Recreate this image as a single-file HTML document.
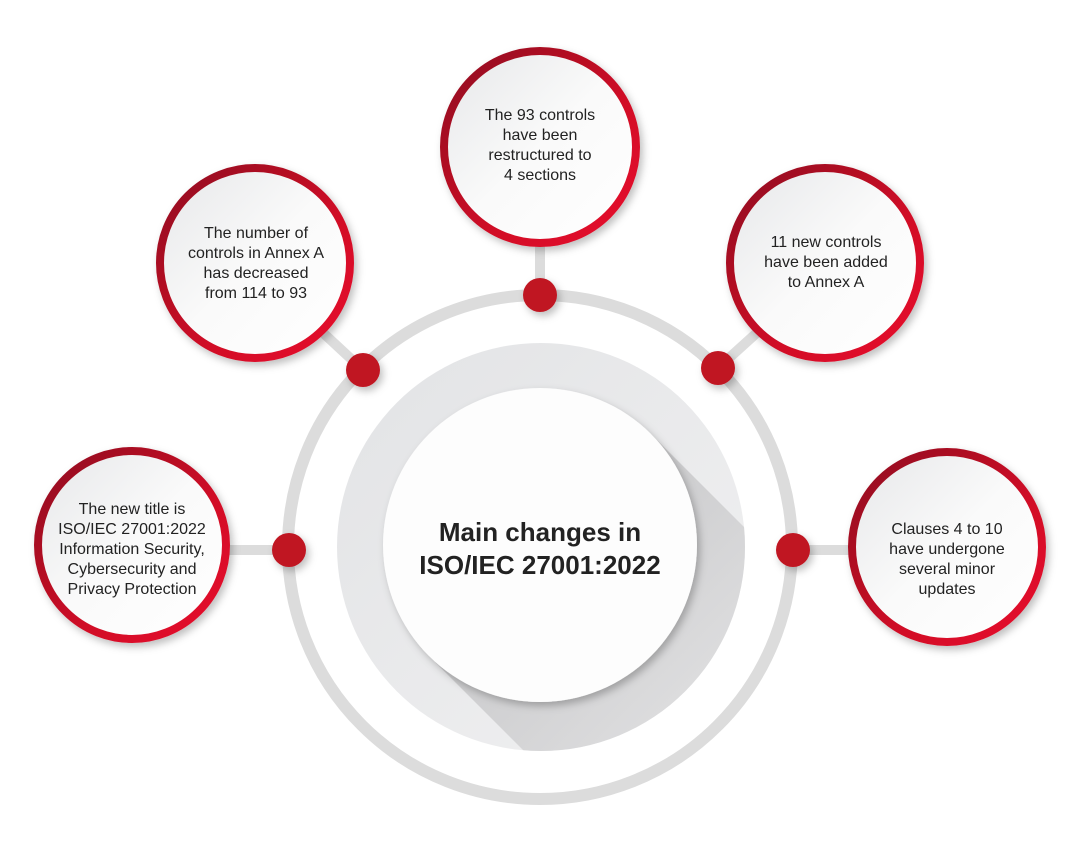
<!DOCTYPE html>
<html><head><meta charset="utf-8"><style>
html,body{margin:0;padding:0;background:#fff;width:1080px;height:849px;overflow:hidden}
svg{display:block}
text{font-family:"Liberation Sans",sans-serif;fill:#222}
</style></head><body>
<svg width="1080" height="849" viewBox="0 0 1080 849" xmlns="http://www.w3.org/2000/svg" style="overflow:hidden">
<defs>
<linearGradient id="rg" x1="0" y1="0" x2="1" y2="1">
<stop offset="0" stop-color="#8e0f1e"/><stop offset="0.6" stop-color="#d10f27"/><stop offset="1" stop-color="#e8102c"/>
</linearGradient>
<linearGradient id="wg" x1="0" y1="0" x2="1" y2="1">
<stop offset="0" stop-color="#e6e7e9"/><stop offset="0.5" stop-color="#fafafa"/><stop offset="1" stop-color="#ffffff"/>
</linearGradient>
<linearGradient id="dg" x1="0" y1="0" x2="1" y2="1">
<stop offset="0" stop-color="#e2e3e5"/><stop offset="1" stop-color="#f1f1f2"/>
</linearGradient>
<linearGradient id="sg" x1="0" y1="0" x2="1" y2="1">
<stop offset="0" stop-color="#b5b5b7"/><stop offset="1" stop-color="#eeeeef"/>
</linearGradient>
<clipPath id="disc"><circle cx="541" cy="547" r="204"/></clipPath>
<filter id="sh" x="-20%" y="-20%" width="140%" height="140%"><feDropShadow dx="3" dy="4" stdDeviation="4" flood-color="#000" flood-opacity="0.25"/></filter>
</defs>
<g stroke="#dcdcdc" stroke-width="10">
<line x1="289" y1="550" x2="225" y2="550"/>
<line x1="540" y1="295" x2="540" y2="245"/>
<line x1="363" y1="370" x2="320" y2="330"/>
<line x1="718" y1="368" x2="760" y2="330"/>
<line x1="793" y1="550" x2="850" y2="550"/>
</g>
<circle cx="540" cy="547" r="252" fill="none" stroke="#dcdcdc" stroke-width="12"/>
<circle cx="541" cy="547" r="204" fill="url(#dg)"/>
<g clip-path="url(#disc)">
<polygon points="651,434 841,624 619,846 429,656" fill="url(#sg)" opacity="0.85"/>
</g>
<circle cx="540" cy="545" r="157" fill="#fdfdfd" filter="url(#sh)"/>
<text x="540" y="541" text-anchor="middle" font-size="26" font-weight="bold">Main changes in</text>
<text x="540" y="574" text-anchor="middle" font-size="26" font-weight="bold">ISO/IEC 27001:2022</text>
<g fill="#c01824" filter="url(#sh)">
<circle cx="289" cy="550" r="17"/><circle cx="540" cy="295" r="17"/>
<circle cx="363" cy="370" r="17"/><circle cx="718" cy="368" r="17"/>
<circle cx="793" cy="550" r="17"/>
</g>
<g fill="url(#wg)" stroke="url(#rg)" stroke-width="8" filter="url(#sh)">
<circle cx="132" cy="545" r="94"/>
<circle cx="255" cy="263" r="95"/>
<circle cx="540" cy="147" r="96"/>
<circle cx="825" cy="263" r="95"/>
<circle cx="947" cy="547" r="95"/>
</g>
<g font-size="16" text-anchor="middle">
<text x="132" y="514">The new title is</text>
<text x="132" y="534">ISO/IEC 27001:2022</text>
<text x="132" y="554">Information Security,</text>
<text x="132" y="574">Cybersecurity and</text>
<text x="132" y="594">Privacy Protection</text>
<text x="256" y="238">The number of</text>
<text x="256" y="258">controls in Annex A</text>
<text x="256" y="278">has decreased</text>
<text x="256" y="298">from 114 to 93</text>
<text x="540" y="120">The 93 controls</text>
<text x="540" y="140">have been</text>
<text x="540" y="160">restructured to</text>
<text x="540" y="180">4 sections</text>
<text x="826" y="247">11 new controls</text>
<text x="826" y="267">have been added</text>
<text x="826" y="287">to Annex A</text>
<text x="947" y="534">Clauses 4 to 10</text>
<text x="947" y="554">have undergone</text>
<text x="947" y="574">several minor</text>
<text x="947" y="594">updates</text>
</g>
</svg>
</body></html>
